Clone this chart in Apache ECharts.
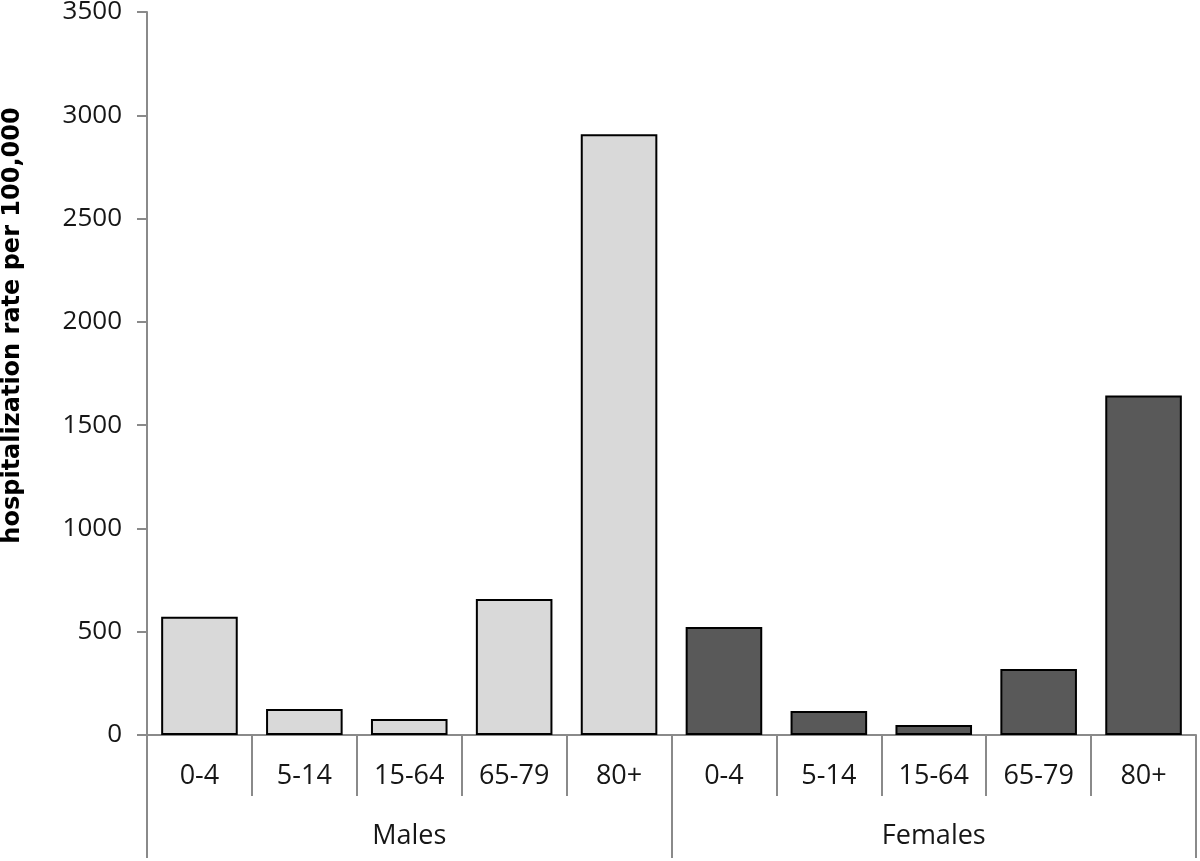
<!DOCTYPE html>
<html>
<head>
<meta charset="utf-8">
<script src="https://cdn.jsdelivr.net/npm/echarts@6/dist/echarts.min.js"></script>
<style>html,body{margin:0;padding:0;background:#fff}#c{width:1200px;height:861px}</style>
</head>
<body>
<div id="c"></div>
<script>
var ageGroups = ['0-4', '5-14', '15-64', '65-79', '80+'];
var sexes = ['Males', 'Females'];
var malesValues = [572, 126, 78, 658, 2908];
var femalesValues = [523, 116, 48, 320, 1643];
var yTicks = [0, 500, 1000, 1500, 2000, 2500, 3000, 3500];

var categories = ageGroups.concat(ageGroups);
var malesData = malesValues.concat(ageGroups.map(function(){return null;}));
var femalesData = ageGroups.map(function(){return null;}).concat(femalesValues);

var axisGrey = '#8a8a8a';
var textColor = '#161616';
var chart = echarts.init(document.getElementById('c'));
chart.setOption({
  animation: false,
  grid: {left: 147, right: 4, top: 12, bottom: 126, containLabel: false, outerBoundsMode: 'none'},
  xAxis: [{
    type: 'category',
    data: categories,
    position: 'bottom',
    axisLine: {lineStyle: {color: axisGrey, width: 2}},
    axisTick: {show: true, length: 61, interval: 0, lineStyle: {color: axisGrey, width: 2}},
    axisLabel: {interval: 0, margin: 28, fontFamily: 'Open Sans', fontSize: 27, color: textColor}
  }, {
    type: 'category',
    data: sexes,
    position: 'bottom',
    offset: 61,
    axisLine: {show: false},
    axisTick: {show: true, length: 62, interval: 0, lineStyle: {color: axisGrey, width: 2}},
    axisLabel: {interval: 0, margin: 27, fontFamily: 'Open Sans', fontSize: 27, color: textColor}
  }],
  yAxis: {
    type: 'value',
    min: yTicks[0],
    max: yTicks[yTicks.length - 1],
    interval: yTicks[1] - yTicks[0],
    axisLine: {show: true, lineStyle: {color: axisGrey, width: 2}},
    axisTick: {show: true, length: 10, lineStyle: {color: axisGrey, width: 2}},
    splitLine: {show: false},
    axisLabel: {margin: 25, fontFamily: 'Open Sans', fontSize: 26, color: textColor,
      formatter: function (v) { return String(v); }},
    name: 'hospitalization rate per 100,000',
    nameLocation: 'middle',
    nameGap: 122,
    nameTextStyle: {fontFamily: 'DejaVu Sans', fontWeight: 'bold', fontSize: 24, color: '#000', padding: [0, 0, 0, 96]}
  },
  series: [{
    name: sexes[0],
    type: 'bar',
    data: malesData,
    barGap: '-100%',
    barCategoryGap: '27%',
    itemStyle: {color: '#d9d9d9', borderColor: '#000', borderWidth: 2}
  }, {
    name: sexes[1],
    type: 'bar',
    data: femalesData,
    barGap: '-100%',
    barCategoryGap: '27%',
    itemStyle: {color: '#595959', borderColor: '#000', borderWidth: 2}
  }]
});
</script>
</body>
</html>
